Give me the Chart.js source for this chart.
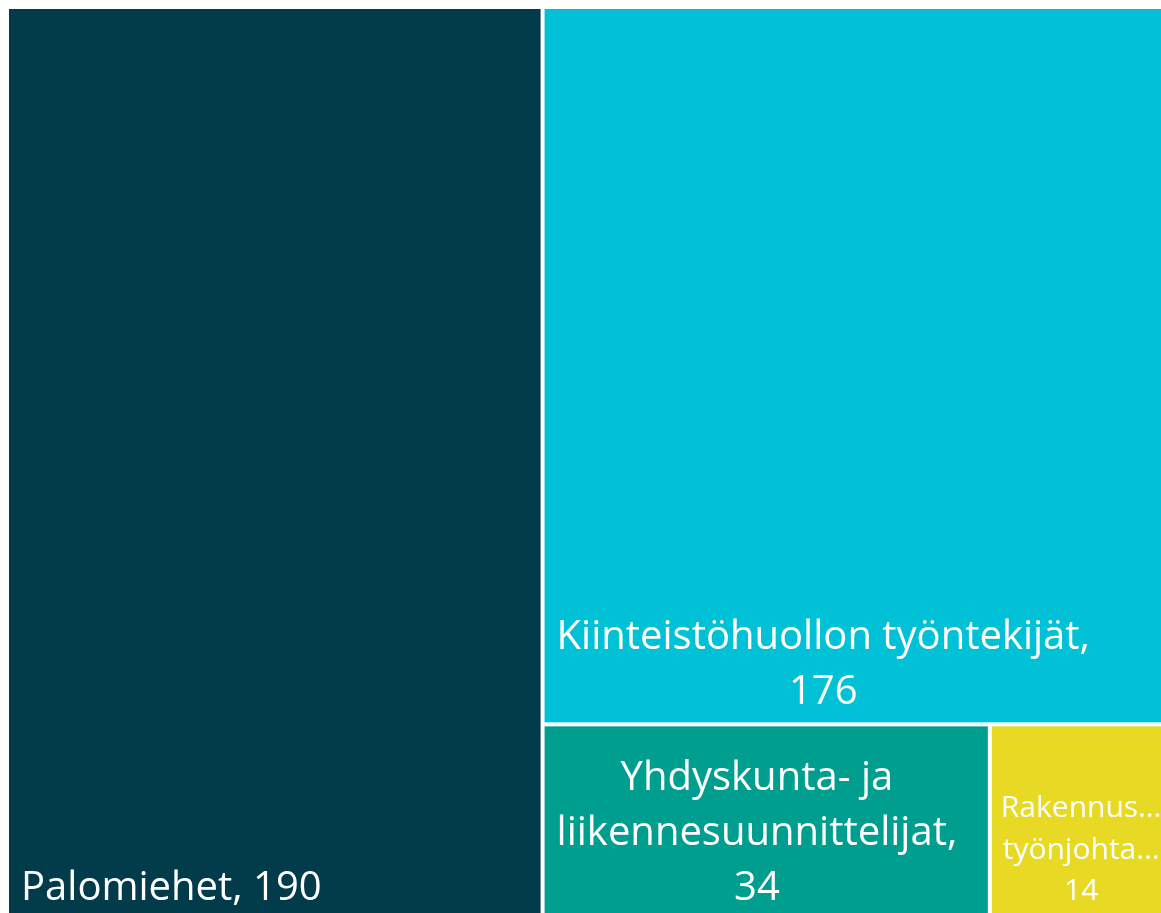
<!DOCTYPE html>
<html>
<head>
<meta charset="utf-8">
<script src="https://cdn.jsdelivr.net/npm/chart.js@4.4.1/dist/chart.umd.min.js"></script>
<style>
    html, body { margin: 0; padding: 0; background: #ffffff; overflow: hidden; }
    #wrap { position: absolute; left: 0; top: 0; width: 1174px; height: 920px; }
</style>
</head>
<body>
<div id="wrap"><canvas id="treeChart"></canvas></div>
<script>
// 数据
const categories = ['Palomiehet', 'Kiinteistöhuollon työntekijät', 'Yhdyskunta- ja liikennesuunnittelijat', 'Rakennusalan työnjohtajat'];
const values = [190, 176, 34, 14];
const cellColors = ['#023B4A', '#00C1D5', '#009E8F', '#E8DA24'];

const FONT_FAMILY = "'Segoe UI', 'Open Sans', 'Noto Sans', sans-serif";

// squarified treemap layout, in units of a (aspect x 1) rectangle
function squarify(vals, rect) {
    const total = vals.reduce((a, b) => a + b, 0);
    const k = rect.w * rect.h / total;
    const items = vals.map((v, i) => ({ i: i, a: v * k })).sort((a, b) => b.a - a.a);
    const out = [];
    let r = Object.assign({}, rect);
    let row = [];
    let idx = 0;

    const worst = (list, side) => {
        const s = list.reduce((a, b) => a + b.a, 0);
        let m = 0;
        list.forEach(it => {
            m = Math.max(m, side * side * it.a / (s * s), (s * s) / (side * side * it.a));
        });
        return m;
    };

    const layoutRow = (list, rr) => {
        const s = list.reduce((a, b) => a + b.a, 0);
        if (rr.w >= rr.h) {
            const colW = s / rr.h;
            let y = rr.y;
            list.forEach(it => {
                const h = it.a / colW;
                out[it.i] = { x: rr.x, y: y, w: colW, h: h };
                y += h;
            });
            return { x: rr.x + colW, y: rr.y, w: rr.w - colW, h: rr.h };
        }
        const rowH = s / rr.w;
        let x = rr.x;
        list.forEach(it => {
            const w = it.a / rowH;
            out[it.i] = { x: x, y: rr.y, w: w, h: rowH };
            x += w;
        });
        return { x: rr.x, y: rr.y + rowH, w: rr.w, h: rr.h - rowH };
    };

    while (idx < items.length) {
        const side = Math.min(r.w, r.h);
        const it = items[idx];
        if (row.length === 0 || worst(row.concat([it]), side) <= worst(row, side)) {
            row.push(it);
            idx++;
        } else {
            r = layoutRow(row, r);
            row = [];
        }
    }
    if (row.length) layoutRow(row, r);
    return out;
}

// 把文字按单词换行, 太长的单词加省略号
function wrapLabel(ctx, text, maxW) {
    const words = text.split(' ').map(w => {
        if (ctx.measureText(w).width <= maxW) return w;
        let t = w;
        while (t.length > 1 && ctx.measureText(t + '…').width > maxW) t = t.slice(0, -1);
        return t + '…';
    });
    const lines = [];
    let cur = '';
    words.forEach(w => {
        const test = cur ? cur + ' ' + w : w;
        if (cur && ctx.measureText(test).width > maxW) {
            lines.push(cur);
            cur = w;
        } else {
            cur = test;
        }
    });
    if (cur) lines.push(cur);
    return lines;
}

const treemapPlugin = {
    id: 'treemapCells',
    afterDatasetsDraw(chart) {
        const ds = chart.data.datasets[0];
        const area = chart.chartArea;
        const xs = chart.scales.x;
        const ys = chart.scales.y;
        const aspect = (area.right - area.left) / (area.bottom - area.top);
        const cells = squarify(ds.values, { x: 0, y: 0, w: aspect, h: 1 });
        const ctx = chart.ctx;
        const gap = ds.gap;

        ctx.save();
        cells.forEach((c, i) => {
            const x0 = xs.getPixelForValue(c.x / aspect) + gap / 2;
            const x1 = xs.getPixelForValue((c.x + c.w) / aspect) - gap / 2;
            const y0 = ys.getPixelForValue(c.y) + gap / 2;
            const y1 = ys.getPixelForValue(c.y + c.h) - gap / 2;
            ctx.fillStyle = ds.backgroundColor[i];
            ctx.fillRect(x0, y0, x1 - x0, y1 - y0);

            // label
            const w = x1 - x0;
            const small = w < 250;
            const fontSize = small ? 30 : 40;
            ctx.font = fontSize + 'px ' + FONT_FAMILY;
            const pad = small ? 9 : 12;
            const lines = wrapLabel(ctx, ds.labels[i] + ', ' + ds.values[i], w - pad * 2);
            const widest = Math.max.apply(null, lines.map(l => ctx.measureText(l).width));
            const cx = x0 + pad + widest / 2;
            const lh = small ? fontSize * 1.38 : fontSize * 1.38;
            let base = y1 - 18 - (lines.length - 1) * lh;
            ctx.fillStyle = '#ffffff';
            ctx.textAlign = 'center';
            ctx.textBaseline = 'alphabetic';
            lines.forEach(l => {
                ctx.fillText(l, cx, base);
                base += lh;
            });
        });
        ctx.restore();
    }
};

let treeChart = null;

function initTreeChart() {
    const ctx = document.getElementById('treeChart').getContext('2d');
    treeChart = new Chart(ctx, {
        type: 'scatter',
        data: {
            datasets: [{
                data: [],
                labels: categories,
                values: values,
                backgroundColor: cellColors,
                gap: 4
            }]
        },
        options: {
            responsive: true,
            maintainAspectRatio: false,
            animation: false,
            layout: { padding: { left: 7, top: 7, right: 0, bottom: 0 } },
            scales: {
                x: { type: 'linear', min: 0, max: 1, display: false },
                y: { type: 'linear', min: 0, max: 1, reverse: true, display: false }
            },
            plugins: {
                legend: { display: false },
                tooltip: { enabled: false }
            }
        },
        plugins: [treemapPlugin]
    });
}

document.addEventListener('DOMContentLoaded', function() {
    initTreeChart();
});
</script>
</body>
</html>
